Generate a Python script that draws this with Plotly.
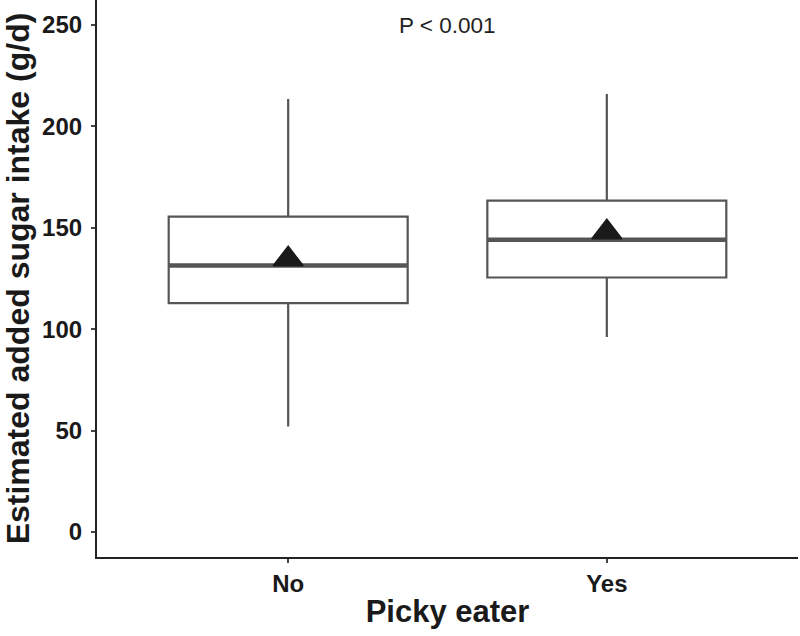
import plotly.graph_objects as go

categories = ["No", "Yes"]
q1 = [112.9, 125.5]
median = [131.4, 144.1]
q3 = [155.5, 163.4]
lower_whisker = [52.0, 96.1]
upper_whisker = [213.5, 216.0]
means = [134.5, 147.8]
y_ticks = [0, 50, 100, 150, 200, 250]
p_label = "P < 0.001"

box_color = "#555555"
text_color = "#1a1a1a"

fig = go.Figure()
fig.add_trace(go.Box(
    x=categories, q1=q1, median=median, q3=q3,
    lowerfence=lower_whisker, upperfence=upper_whisker,
    width=0.75, whiskerwidth=0, fillcolor="white",
    line=dict(color=box_color, width=2.2), boxpoints=False,
    hoverinfo="skip", showlegend=False,
))
# thick median line
fig.add_trace(go.Box(
    x=categories, q1=median, median=median, q3=median,
    lowerfence=median, upperfence=median,
    width=0.75, whiskerwidth=0, fillcolor="rgba(0,0,0,0)",
    line=dict(color=box_color, width=4.5), boxpoints=False,
    hoverinfo="skip", showlegend=False,
))
fig.add_trace(go.Scatter(
    x=categories, y=means, mode="markers",
    marker=dict(symbol="triangle-up", size=26, color="#1a1a1a",
                line=dict(color="#1a1a1a", width=1.5)),
    showlegend=False, hoverinfo="skip",
))

fig.add_annotation(
    x=0.5, xref="paper", y=249.5, yref="y", text=p_label, showarrow=False,
    font=dict(family="Liberation Sans, Arial, sans-serif", size=22.5, color="#222222"),
    xanchor="center", yanchor="middle",
)

fig.update_layout(
    width=800, height=636,
    margin=dict(l=97, r=2, t=0, b=79),
    paper_bgcolor="white", plot_bgcolor="white",
    boxmode="overlay",
    font=dict(family="Liberation Sans, Arial, sans-serif", color=text_color),
)
fig.update_xaxes(
    type="category", categoryorder="array", categoryarray=categories,
    range=[-0.6, 1.6], automargin=False,
    showline=True, linecolor="#222222", linewidth=2.2,
    ticks="outside", ticklen=4, tickwidth=1.5, tickcolor="#444444",
    showgrid=False, zeroline=False,
    tickfont=dict(size=24, color=text_color, weight="bold"),
    title=dict(text="Picky eater", font=dict(size=31, color=text_color, weight="bold"), standoff=4),
)
fig.update_yaxes(
    range=[-12.3, 262.3], tickvals=y_ticks, automargin=False,
    showline=True, linecolor="#222222", linewidth=2.2,
    ticks="outside", ticklen=4, tickwidth=1.5, tickcolor="#444444",
    showgrid=False, zeroline=False,
    tickfont=dict(size=24, color=text_color, weight="bold"),
    ticklabelstandoff=4,
    title=dict(text="Estimated added sugar intake (g/d)", font=dict(size=32, color=text_color, weight="bold"), standoff=4),
)

fig.write_html("out.html", config={"displayModeBar": False},
               post_script="document.body.style.margin='0';document.body.style.overflow='hidden';")
